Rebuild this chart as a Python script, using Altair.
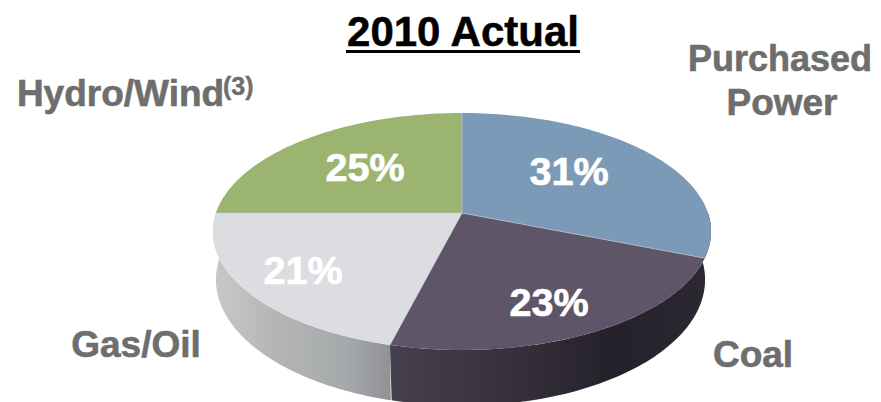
import numpy as np
import pandas as pd
import altair as alt

# chart data
categories = ["Purchased Power", "Coal", "Gas/Oil", "Hydro/Wind"]
shares = [31, 23, 21, 25]
top_colors = ["#7b9ab8", "#5f5569", "#dbdde0", "#9bb46f"]
percent_labels = ["31%", "23%", "21%", "25%"]
percent_x = [569, 549, 303, 365]
percent_y = [185, 316, 284, 181]

title_text = "2010 Actual"
cat_text = ["Purchased", "Power", "Coal", "Gas/Oil", "Hydro/Wind"]
cat_x = [780, 782, 753, 136, 120.5]
cat_y = [71, 115, 367, 357, 106]
cat_size = [36, 37, 37, 37, 37]

# perspective of the tilted pie, in page pixels
CX, CY, RX, RY, K = 462.0, 213.0, 246.0, 115.6, -0.156
DEPTH = 47.0


def project(theta_deg, depth=0.0, shrink=1.0):
    t = np.radians(theta_deg)
    u, v = np.sin(t), np.cos(t)
    s = 1.0 / (1.0 - K * v)
    return CX + RX * shrink * u * s, CY - RY * v * s + depth * s


cuts = np.cumsum([0] + shares) * 3.6
rows = []
for name, a, b in zip(categories, cuts[:-1], cuts[1:]):
    th = np.linspace(a, b, 80)
    xs, ys = project(th)
    pts = [(CX, CY)] + list(zip(xs, ys)) + [(CX, CY)]
    rows += [{"slice": name, "i": i, "x": p[0], "y": p[1]} for i, p in enumerate(pts)]
top = pd.DataFrame(rows)


def wall(a, b, shrink):
    th = np.linspace(a, b, 80)
    x1, y1 = project(th)
    x2, y2 = project(th[::-1], DEPTH, shrink)
    return pd.DataFrame({"x": np.r_[x1, x2], "y": np.r_[y1, y2], "i": np.arange(160)})


spoke_rows = []
for j, c in enumerate(cuts[:-1]):
    x, y = project(np.array([c]))
    spoke_rows += [{"s": j, "i": 0, "x": CX, "y": CY}, {"s": j, "i": 1, "x": x[0], "y": y[0]}]
spokes = pd.DataFrame(spoke_rows)

X = alt.X("x:Q", scale=alt.Scale(domain=[8, 873], nice=False, zero=False), axis=None)
Y = alt.Y("y:Q", scale=alt.Scale(domain=[402, 8], nice=False, zero=False), axis=None)

grey_grad = alt.Gradient(
    gradient="linear", x1=0, x2=1, y1=0, y2=0,
    stops=[alt.GradientStop(offset=0, color="#c8c8c8"),
           alt.GradientStop(offset=0.35, color="#b4b6b6"),
           alt.GradientStop(offset=0.75, color="#a6a9ab"),
           alt.GradientStop(offset=1, color="#8f9194")],
)
dark_grad = alt.Gradient(
    gradient="linear", x1=0, x2=1, y1=0, y2=0,
    stops=[alt.GradientStop(offset=0, color="#46404f"),
           alt.GradientStop(offset=0.3, color="#39343f"),
           alt.GradientStop(offset=0.7, color="#25212a"),
           alt.GradientStop(offset=1, color="#2c2932")],
)

wall_left = alt.Chart(wall(cuts[2], cuts[3] + 8, 0.988)).mark_line(fill=grey_grad, strokeWidth=0).encode(x=X, y=Y, order="i:Q")
wall_right = alt.Chart(wall(cuts[1] - 22, cuts[2], 0.976)).mark_line(fill=dark_grad, strokeWidth=0).encode(x=X, y=Y, order="i:Q")

top_layer = alt.Chart(top).mark_line(strokeWidth=0).encode(
    x=X, y=Y, order="i:Q",
    fill=alt.Fill("slice:N", scale=alt.Scale(domain=categories, range=top_colors), legend=None),
    detail="slice:N",
)
spoke_layer = alt.Chart(spokes).mark_line(stroke="#c4cdd6", strokeWidth=0.8, opacity=0.8).encode(
    x=X, y=Y, order="i:Q", detail="s:N"
)

pct_df = pd.DataFrame({"x": percent_x, "y": percent_y, "t": percent_labels})
pct = alt.Chart(pct_df).mark_text(
    font="Liberation Sans", fontWeight="bold", fontSize=39.5, color="white", stroke="white", strokeWidth=0.7,
    align="center", baseline="alphabetic"
).encode(x=X, y=Y, text="t:N")

cat_df = pd.DataFrame({"x": cat_x, "y": cat_y, "t": cat_text, "s": cat_size})
cat = alt.Chart(cat_df).mark_text(
    font="Liberation Sans", fontWeight="bold", color="#6e6e6e", stroke="#6e6e6e", strokeWidth=0.6,
    align="center", baseline="alphabetic"
).encode(x=X, y=Y, text="t:N", size=alt.Size("s:Q", scale=None))

sup = alt.Chart(pd.DataFrame({"x": [223], "y": [95], "t": ["(3)"]})).mark_text(
    font="Liberation Sans", fontWeight="bold", fontSize=25, color="#6e6e6e", stroke="#6e6e6e", strokeWidth=0.4,
    align="left", baseline="alphabetic"
).encode(x=X, y=Y, text="t:N")

title = alt.Chart(pd.DataFrame({"x": [463], "y": [46], "t": [title_text]})).mark_text(
    font="Liberation Sans", fontWeight="bold", fontSize=42, color="#000000", stroke="#000000", strokeWidth=0.5,
    align="center", baseline="alphabetic"
).encode(x=X, y=Y, text="t:N")

underline = alt.Chart(pd.DataFrame({"x": [346], "x2": [580], "y": [51.5]})).mark_rule(
    color="#000000", strokeWidth=3
).encode(x=X, x2="x2:Q", y=Y)

chart = alt.layer(
    wall_left, wall_right, top_layer, spoke_layer, pct, cat, sup, title, underline
).properties(
    width=865, height=394, padding=0, background="white",
    autosize=alt.AutoSizeParams(type="none"),
).configure_view(stroke=None)

chart.save("out.html", embed_options={"renderer": "svg", "actions": False})
